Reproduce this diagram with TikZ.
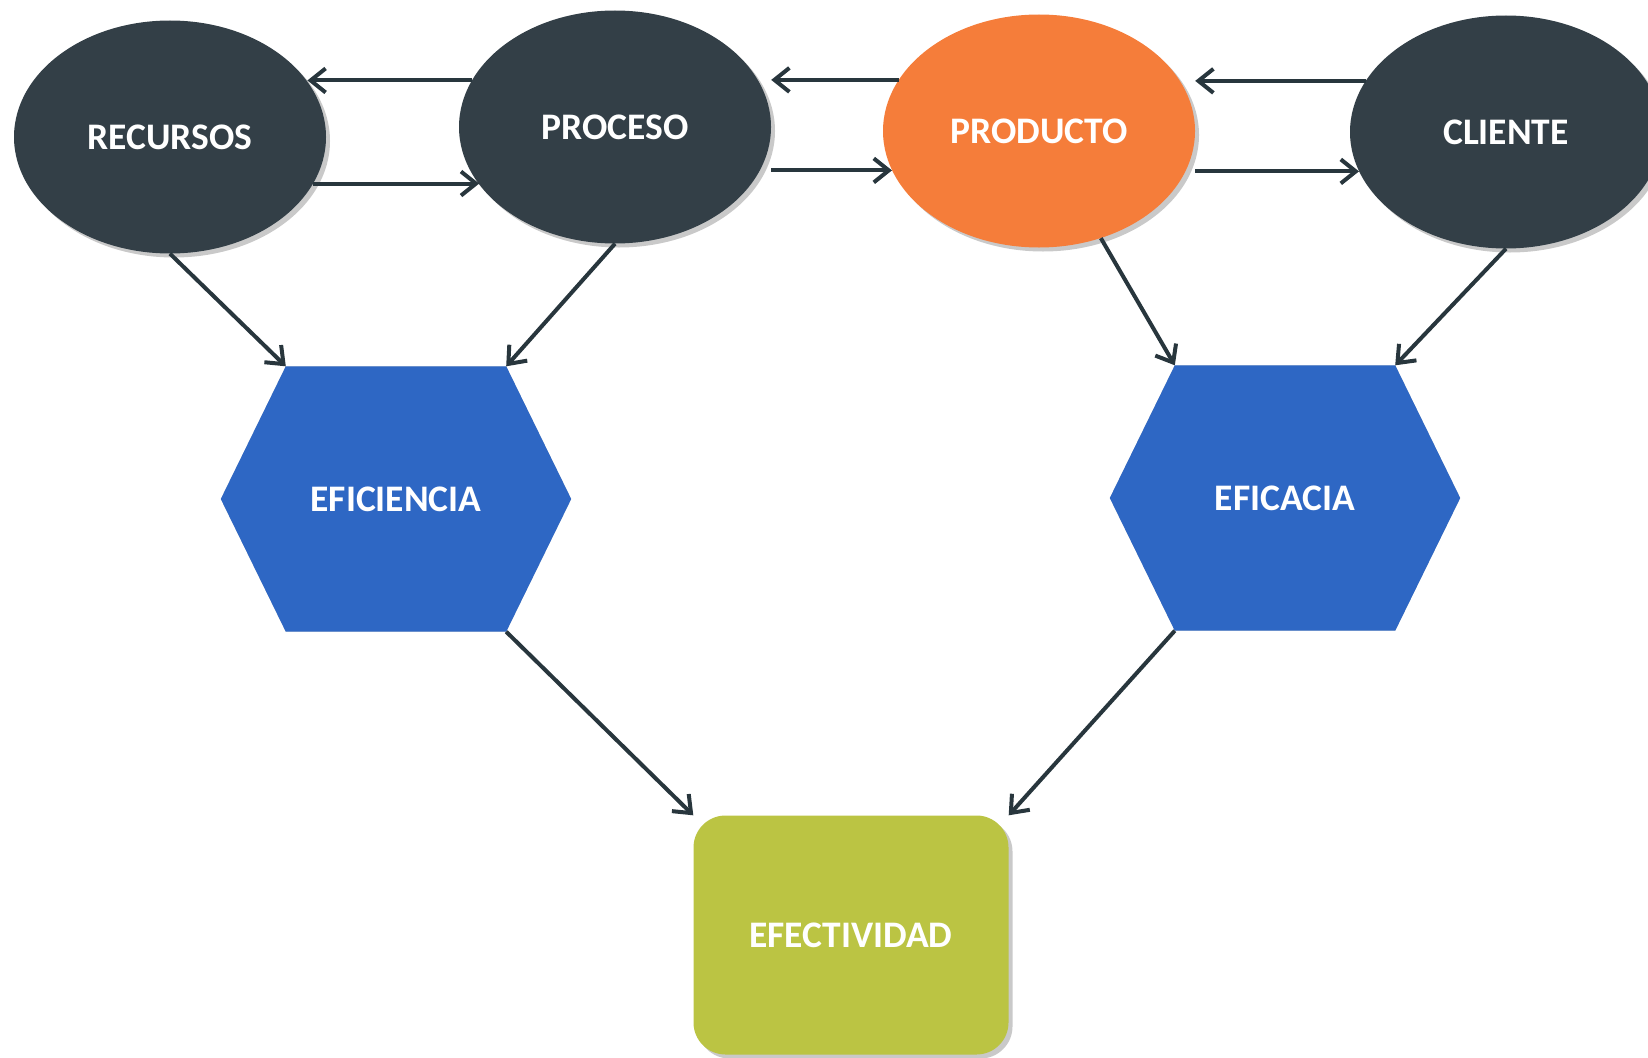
\documentclass[tikz,border=0pt]{standalone}
\usepackage{fontspec}
\setmainfont{Carlito}
\usepackage{xcolor}
\usepackage{tikz}
\usetikzlibrary{shapes.geometric, arrows.meta, shadows, backgrounds}

\definecolor{oscuro}{HTML}{333F47}
\definecolor{naranja}{HTML}{F57D3A}
\definecolor{azul}{HTML}{2E67C4}
\definecolor{verde}{HTML}{BBC443}
\definecolor{linea}{HTML}{28363D}

\begin{document}
\begin{tikzpicture}[x=1pt, y=1pt,
  rotulo/.style={text=white, font=\fontsize{37.5}{44}\selectfont\bfseries},
  sombra/.style={drop shadow={shadow xshift=4pt, shadow yshift=-4pt, opacity=0.3, fill=black!70}},
  elipse/.style={ellipse, rotulo, sombra, minimum width=312pt, minimum height=233pt},
  hexa/.style={rectangle, rotulo, inner sep=0pt, minimum width=220pt, minimum height=265pt},
  caja/.style={rectangle, rotulo, sombra, fill=verde, rounded corners=32pt,
    minimum width=315pt, minimum height=239pt},
  flecha/.style={draw=linea, line width=4pt, -{Straight Barb[length=15pt,width=24pt]}}
]
  \useasboundingbox (0,0) rectangle (1648,-1057);

  % fila superior: recursos, proceso, producto, cliente
  \foreach \nombre/\texto/\x/\y/\relleno in {%
    recursos/RECURSOS/170/137/oscuro,
    proceso/PROCESO/615/127/oscuro,
    producto/PRODUCTO/1039/131/naranja,
    cliente/CLIENTE/1506/132/oscuro%
  }{
    \node[elipse, fill=\relleno] (\nombre) at (\x,-\y) {\texto};
  }

  % hexagonos: eficiencia y eficacia
  \foreach \nombre/\texto/\x/\y in {%
    eficiencia/EFICIENCIA/396/499,
    eficacia/EFICACIA/1285/498%
  }{
    \node[hexa] (\nombre) at (\x,-\y) {\texto};
    \begin{scope}[on background layer]
      \fill[black!70, opacity=0.3, xshift=4pt, yshift=-4pt]
        (\nombre.north west) -- (\nombre.north east) -- ([xshift=65pt]\nombre.east)
        -- (\nombre.south east) -- (\nombre.south west) -- ([xshift=-65pt]\nombre.west) -- cycle;
      \fill[azul]
        (\nombre.north west) -- (\nombre.north east) -- ([xshift=65pt]\nombre.east)
        -- (\nombre.south east) -- (\nombre.south west) -- ([xshift=-65pt]\nombre.west) -- cycle;
    \end{scope}
  }

  \node[caja] (efectividad) at (851,-935) {EFECTIVIDAD};

  % flechas horizontales
  \draw[flecha] (proceso.162) -- (proceso.162 -| recursos.22);
  \draw[flecha] (recursos.-18) -- (recursos.-18 -| proceso.-157);
  \draw[flecha] (producto.160) -- (producto.160 -| proceso.east);
  \draw[flecha] (proceso.east |- producto.-165) -- (producto.-165);
  \draw[flecha] (cliente.160) -- (cliente.160 -| producto.east);
  \draw[flecha] (producto.east |- cliente.195) -- (cliente.195);

  % flechas diagonales
  \draw[flecha] (recursos.south) -- (eficiencia.north west);
  \draw[flecha] (proceso.south) -- (eficiencia.north east);
  \draw[flecha] (producto.-60) -- (eficacia.north west);
  \draw[flecha] (cliente.south) -- (eficacia.north east);
  \draw[flecha] (eficiencia.south east) -- (efectividad.north west);
  \draw[flecha] (eficacia.south west) -- (efectividad.north east);

\end{tikzpicture}
\end{document}
